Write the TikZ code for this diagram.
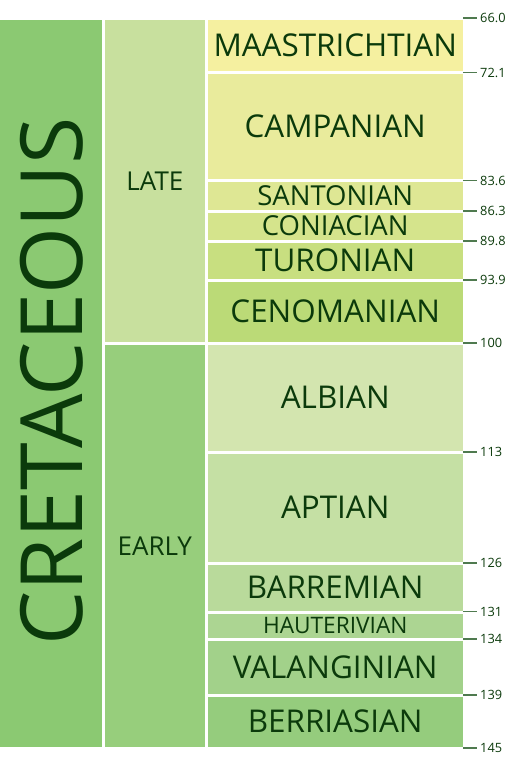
\documentclass[tikz,border=0pt]{standalone}
\usepackage{fontspec}
\setmainfont{Open Sans}
\definecolor{txt}{HTML}{0B3A0B}
\definecolor{tickc}{HTML}{4F7A4F}
\definecolor{cret}{HTML}{8BC972}
\definecolor{late}{HTML}{C8E09E}
\definecolor{early}{HTML}{97CE7C}
\definecolor{maas}{HTML}{F5F0A0}
\definecolor{camp}{HTML}{E9EB9C}
\definecolor{sant}{HTML}{DEE794}
\definecolor{coni}{HTML}{D5E48C}
\definecolor{turo}{HTML}{C8DF80}
\definecolor{ceno}{HTML}{BBDA77}
\definecolor{albi}{HTML}{D3E5AF}
\definecolor{apti}{HTML}{C5E0A4}
\definecolor{barr}{HTML}{B9DA9B}
\definecolor{haut}{HTML}{ACD592}
\definecolor{vala}{HTML}{A2D18A}
\definecolor{berr}{HTML}{95CC7D}
\newcommand\fs[1]{\fontsize{#1}{#1}\selectfont}
\begin{document}
\begin{tikzpicture}[x=1pt,y=-1pt,
  box/.style={rectangle, draw=white, line width=3pt, inner sep=0pt, outer sep=0pt, text=txt},
  stagebox/.style={box, minimum width=258.5pt},
  epochbox/.style={box, minimum width=102.3pt},
  tick/.style={draw=tickc, line width=1.6pt},
  ticklabel/.style={right, inner sep=0pt, xshift=3pt, text=txt, font=\fs{12.8}}]
\useasboundingbox (0,0) rectangle (524,758);
% period
\node[box, fill=cret, minimum width=105.7pt, minimum height=730pt, anchor=north west] (cretaceous) at (-2,18.5) {};
\node[rotate=90, text=txt, font=\fs{86}, inner sep=0pt] (cretlabel) at ([xshift=1pt,yshift=2pt]cretaceous.center) {CRETACEOUS};
% epochs
\node[epochbox, fill=late, minimum height=324.5pt] (late) at (154.85,180.75) {};
\node[text=txt, font=\fs{26}, inner sep=0pt] (latelabel) at (late.center) {LATE};
\node[epochbox, fill=early, minimum height=405.5pt] (early) at (154.85,545.75) {};
\node[text=txt, font=\fs{26}, inner sep=0pt] (earlylabel) at (early.center) {EARLY};
% stages
\node[stagebox, fill=maas, minimum height=53.5pt, font=\fs{31.4}] (maas) at (335.25,45.25) {MAASTRICHTIAN};
\node[stagebox, fill=camp, minimum height=108.5pt, font=\fs{31.4}] (camp) at (335.25,126.25) {CAMPANIAN};
\node[stagebox, fill=sant, minimum height=30.5pt, font=\fs{27.5}] (sant) at (335.25,195.75) {SANTONIAN};
\node[stagebox, fill=coni, minimum height=30pt, font=\fs{27.5}] (coni) at (335.25,226) {CONIACIAN};
\node[stagebox, fill=turo, minimum height=39pt, font=\fs{31.4}] (turo) at (335.25,260.5) {TURONIAN};
\node[stagebox, fill=ceno, minimum height=63pt, font=\fs{31.4}] (ceno) at (335.25,311.5) {CENOMANIAN};
\node[stagebox, fill=albi, minimum height=109pt, font=\fs{31.4}] (albi) at (335.25,397.5) {ALBIAN};
\node[stagebox, fill=apti, minimum height=111pt, font=\fs{31.4}] (apti) at (335.25,507.5) {APTIAN};
\node[stagebox, fill=barr, minimum height=49pt, font=\fs{31.4}] (barr) at (335.25,587.5) {BARREMIAN};
\node[stagebox, fill=haut, minimum height=27pt, font=\fs{22.7}] (haut) at (335.25,625.5) {HAUTERIVIAN};
\node[stagebox, fill=vala, minimum height=56pt, font=\fs{31.4}] (vala) at (335.25,667) {VALANGINIAN};
\node[stagebox, fill=berr, minimum height=53.5pt, font=\fs{31.4}] (berr) at (335.25,721.75) {BERRIASIAN};
% ticks
\foreach \y/\lab [count=\i] in {18/66.0, 72.5/72.1, 180.5/83.6, 211/86.3, 241/89.8, 280/93.9, 343/100, 452/113, 563/126, 611.5/131, 639/134, 695/139, 748/145}{
  \coordinate (ts\i) at (463,\y);
  \coordinate (te\i) at (477,\y);
  \draw[tick] (ts\i) -- (te\i);
  \node[ticklabel] (tl\i) at (te\i) {\lab};
}
\end{tikzpicture}
\end{document}
